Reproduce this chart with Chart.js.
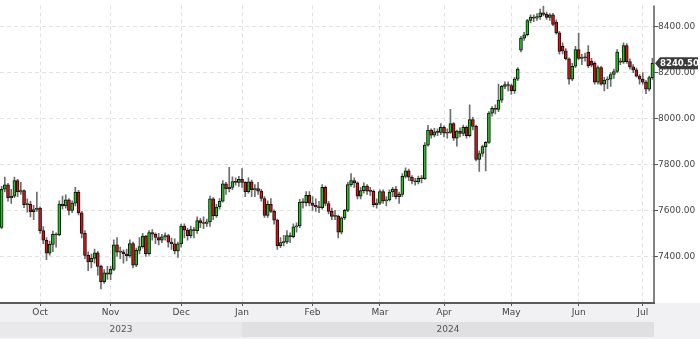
<!DOCTYPE html>
<html><head><meta charset="utf-8">
<script src="https://cdn.jsdelivr.net/npm/chart.js@4"></script>
<style>html,body{margin:0;padding:0;background:#fff;}canvas{display:block;}</style>
</head><body>
<canvas id="c" width="700" height="339"></canvas>
<script>
// ---- categories ----
const monthNames = ['Sep','Oct','Nov','Dec','Jan','Feb','Mar','Apr','May','Jun','Jul'];
const monthYears = [2023,2023,2023,2023,2024,2024,2024,2024,2024,2024,2024];
const tradingDays = [12,22,22,19,22,21,20,21,21,20,4];
const yearLabels = ['2023','2024'];
const yTicks = [7400,7600,7800,8000,8200,8400];

// ---- series values (daily candles) ----
const opens = [
 7526,7692,7711,7655,7662,7730,7680,7686,7625,7628,7595,7604,
 7610,7512,7470,7414,7452,7496,7493,7628,7620,7646,7600,7632,7680,7590,7500,7404,7376,7391,7415,7356,7290,7328,
 7322,7343,7450,7418,7420,7410,7402,7456,7362,7426,7442,7488,7412,7504,7496,7482,7470,7485,7490,7462,7455,7424,
 7455,7532,7514,7490,7516,7512,7556,7546,7543,7550,7650,7576,7615,7640,7716,7695,7700,7726,7722,
 7735,7722,7682,7724,7690,7695,7684,7652,7578,7626,7596,7558,7446,7460,7463,7490,7486,7528,7532,7636,7634,7666,
 7632,7622,7616,7612,7700,7630,7596,7574,7575,7505,7568,7600,7712,7730,7720,7662,7686,7706,7684,7683,7625,
 7632,7682,7641,7646,7680,7693,7660,7670,7748,7772,7745,7728,7724,7740,7738,7884,7950,7928,7942,7940,
 7962,7936,7940,7978,7915,7945,7935,7962,7925,7996,7966,7822,7848,7878,7896,8024,8045,8040,8080,8140,8148,
 8144,8122,8172,8298,8350,8365,8427,8442,8437,8444,8460,8454,8440,8452,8420,8373,8315,8295,8260,8172,8228,
 8300,8262,8266,8290,8250,8240,8158,8222,8150,8168,8172,8192,8205,8248,8246,8318,8248,8225,8212,8185,
 8172,8158,8128,8178
];
const highs = [
 7705,7745,7718,7692,7745,7735,7722,7690,7650,7640,7622,7680,
 7616,7530,7482,7466,7510,7502,7642,7662,7668,7652,7642,7700,7688,7596,7512,7420,7410,7432,7422,7362,7342,7356,
 7356,7472,7482,7440,7428,7432,7472,7462,7436,7482,7500,7492,7512,7516,7502,7500,7496,7502,7496,7480,7476,7462,
 7540,7542,7522,7532,7526,7572,7566,7572,7562,7662,7656,7626,7652,7730,7722,7788,7746,7742,7748,
 7782,7726,7742,7732,7712,7722,7692,7660,7642,7652,7602,7562,7482,7492,7512,7502,7542,7546,7648,7652,7682,7682,
 7660,7650,7640,7712,7706,7640,7610,7600,7580,7572,7605,7722,7760,7742,7724,7700,7720,7712,7700,7690,7650,
 7690,7690,7660,7690,7700,7705,7680,7760,7785,7780,7752,7740,7750,7752,7895,7970,7955,7958,7955,7978,
 7968,7955,8040,7982,7950,7960,7972,7968,8060,8005,7972,7860,7885,7900,8030,8052,8060,8150,8145,8160,8160,
 8150,8180,8222,8358,8375,8432,8452,8452,8457,8477,8490,8464,8457,8458,8430,8380,8330,8305,8265,8240,8315,
 8372,8280,8285,8318,8262,8248,8230,8228,8180,8182,8200,8215,8300,8262,8330,8326,8260,8235,8220,8192,
 8200,8165,8185,8262
];
const lows = [
 7520,7680,7640,7630,7655,7660,7670,7612,7592,7572,7560,7596,
 7500,7455,7385,7405,7420,7440,7490,7605,7610,7580,7590,7620,7580,7480,7390,7338,7350,7370,7318,7258,7282,7300,
 7298,7338,7400,7390,7370,7380,7395,7350,7355,7410,7436,7400,7405,7470,7455,7450,7460,7470,7440,7430,7410,7395,
 7440,7480,7470,7480,7480,7500,7525,7520,7530,7530,7560,7570,7605,7636,7670,7680,7690,7710,7705,
 7700,7660,7675,7660,7660,7670,7640,7570,7570,7590,7540,7430,7438,7445,7455,7460,7480,7505,7525,7610,7620,7620,
 7600,7596,7590,7605,7620,7585,7560,7560,7480,7498,7560,7595,7705,7700,7650,7650,7675,7670,7665,7615,7610,
 7625,7630,7620,7640,7660,7650,7630,7660,7740,7730,7715,7710,7715,7720,7735,7880,7915,7920,7925,7930,
 7920,7915,7935,7905,7880,7920,7925,7915,7920,7950,7815,7770,7835,7772,7892,8010,8020,8030,8070,8130,8120,
 8105,8110,8165,8290,8340,8360,8417,8422,8427,8432,8447,8432,8427,8405,8368,8280,8282,8255,8150,8165,8222,
 8255,8235,8250,8222,8225,8150,8150,8145,8120,8130,8140,8175,8200,8235,8240,8240,8215,8200,8180,8150,
 8150,8108,8120,8170
];
const closes = [
 7692,7711,7655,7662,7730,7680,7686,7625,7628,7595,7604,7610,
 7512,7470,7414,7452,7496,7493,7628,7620,7646,7600,7632,7680,7590,7500,7404,7376,7391,7415,7356,7290,7328,7322,
 7343,7450,7418,7420,7410,7402,7456,7362,7426,7442,7488,7412,7504,7496,7482,7470,7485,7490,7462,7455,7424,7455,
 7532,7514,7490,7516,7512,7556,7546,7543,7550,7650,7576,7615,7640,7716,7695,7700,7726,7722,7735,
 7722,7682,7724,7690,7695,7684,7652,7578,7626,7596,7558,7446,7460,7463,7490,7486,7528,7532,7636,7634,7666,7632,
 7622,7616,7612,7700,7630,7596,7574,7575,7505,7568,7600,7712,7730,7720,7662,7686,7706,7684,7683,7625,7632,
 7682,7641,7646,7680,7693,7660,7670,7748,7772,7745,7728,7724,7740,7738,7884,7950,7928,7942,7940,7962,
 7936,7940,7978,7915,7945,7935,7962,7925,7996,7966,7822,7848,7878,7896,8024,8045,8040,8080,8140,8148,8144,
 8122,8172,8215,8350,8365,8427,8442,8437,8444,8460,8454,8440,8452,8410,8373,8292,8295,8260,8172,8228,8300,
 8262,8266,8265,8230,8232,8158,8222,8150,8168,8172,8192,8205,8290,8246,8318,8248,8225,8212,8185,8172,
 8158,8128,8178,8240.5
];

// ---- build categories ----
const labels = [];
const monthStart = [];
monthNames.forEach((m, mi) => {
  monthStart.push(labels.length);
  for (let d = 0; d < tradingDays[mi]; d++) labels.push(m + ' ' + monthYears[mi] + ' #' + (d + 1));
});
const tickIdx = monthStart.slice(1);            // first visible full month is Oct
const tickName = {};
tickIdx.forEach((i, n) => { tickName[i] = monthNames[n + 1]; });
const janIdx = monthStart[monthNames.indexOf('Jan')];

const GREEN = '#1fc41f', RED = '#dc1010';
const FONT = '"DejaVu Sans", sans-serif';

const bgPlugin = {
  id: 'bg',
  beforeDraw(chart) {
    const ctx = chart.ctx, a = chart.chartArea;
    ctx.save();
    ctx.fillStyle = '#ffffff';
    ctx.fillRect(0, 0, chart.width, chart.height);
    ctx.fillStyle = '#f1f1f3';
    ctx.fillRect(0, a.bottom, chart.width, chart.height - a.bottom);
    const xJ = chart.scales.x.getPixelForValue(janIdx);
    ctx.fillStyle = '#e9e9eb';
    ctx.fillRect(0, 322, xJ, 15);
    ctx.fillStyle = '#e0e0e2';
    ctx.fillRect(xJ, 322, a.right - xJ, 15);
    ctx.fillStyle = '#555';
    ctx.font = '9px ' + FONT;
    ctx.textAlign = 'center';
    ctx.textBaseline = 'middle';
    ctx.fillText(yearLabels[0], xJ / 2, 330);
    ctx.fillText(yearLabels[1], (xJ + a.right) / 2, 330);
    ctx.restore();
  },
  afterDraw(chart) {
    const ctx = chart.ctx, a = chart.chartArea;
    ctx.save();
    ctx.strokeStyle = '#5a5a5a';
    ctx.lineWidth = 2;
    ctx.beginPath(); ctx.moveTo(a.left, a.bottom); ctx.lineTo(a.right + 1, a.bottom); ctx.stroke();
    ctx.lineWidth = 1.5;
    ctx.beginPath(); ctx.moveTo(a.right, a.top); ctx.lineTo(a.right, a.bottom); ctx.stroke();
    // last price tag
    const last = closes[closes.length - 1];
    const y = chart.scales.y.getPixelForValue(last);
    ctx.fillStyle = '#3a3a3a';
    ctx.beginPath();
    ctx.moveTo(a.right + 1, y);
    ctx.lineTo(a.right + 6, y - 6);
    ctx.lineTo(698, y - 6);
    ctx.lineTo(698, y + 6);
    ctx.lineTo(a.right + 6, y + 6);
    ctx.closePath();
    ctx.fill();
    ctx.fillStyle = '#ffffff';
    ctx.font = 'bold 9.5px "DejaVu Sans Condensed", "DejaVu Sans", sans-serif';
    ctx.textAlign = 'left';
    ctx.textBaseline = 'middle';
    ctx.fillText(last.toFixed(2), a.right + 6, y + 0.5);
    ctx.restore();
  }
};

new Chart(document.getElementById('c'), {
  type: 'bar',
  data: {
    labels: labels,
    datasets: [
      {
        label: 'range',
        data: lows.map((l, i) => [l, highs[i]]),
        backgroundColor: '#6e6e6e',
        barThickness: 1,
        grouped: false,
        order: 2
      },
      {
        label: 'body',
        data: opens.map((o, i) => [o, closes[i]]),
        backgroundColor: opens.map((o, i) => closes[i] >= o ? GREEN : RED),
        borderColor: '#111',
        borderWidth: 1,
        borderSkipped: false,
        barThickness: 3,
        minBarLength: 1,
        grouped: false,
        order: 1
      }
    ]
  },
  options: {
    responsive: false,
    animation: false,
    devicePixelRatio: 1,
    layout: { padding: 0 },
    plugins: { legend: { display: false }, tooltip: { enabled: false } },
    scales: {
      x: {
        type: 'category',
        offset: true,
        afterBuildTicks(scale) { scale.ticks = tickIdx.map(v => ({ value: v })); },
        afterFit(scale) { scale.height = 36; },
        grid: {
          offset: false, color: '#e2e2e2', lineWidth: 1,
          drawTicks: true, tickLength: 3, tickColor: '#555', tickWidth: 1, tickBorderDash: []
        },
        border: { display: false, dash: [4, 3] },
        ticks: {
          autoSkip: false, maxRotation: 0, minRotation: 0, padding: 1,
          color: '#444', font: { family: FONT, size: 9 },
          callback(v) { return tickName[v] || ''; }
        }
      },
      y: {
        position: 'right',
        min: 7196.8,
        max: 8492.8,
        afterBuildTicks(scale) { scale.ticks = yTicks.map(v => ({ value: v })); },
        afterFit(scale) { scale.width = 46; },
        grid: {
          color: '#e2e2e2', lineWidth: 1,
          drawTicks: true, tickLength: 4, tickColor: '#555', tickWidth: 1, tickBorderDash: []
        },
        border: { display: false, dash: [4, 3] },
        ticks: {
          padding: 0, color: '#444', font: { family: FONT, size: 9 },
          callback(v) { return Number(v).toFixed(2); }
        }
      }
    }
  },
  plugins: [bgPlugin]
});
</script>
</body></html>
